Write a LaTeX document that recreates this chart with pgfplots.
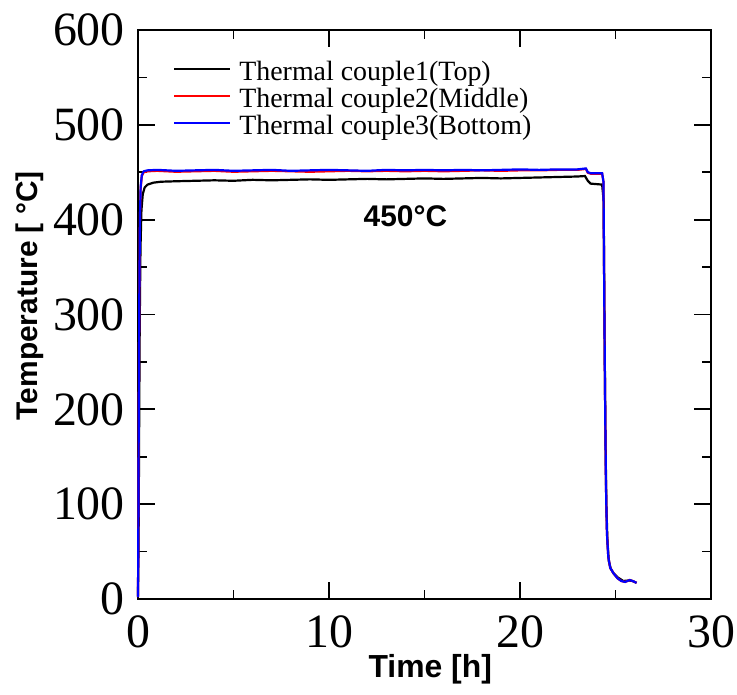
\documentclass[border=0pt]{standalone}
\usepackage{fontspec}
\setmainfont{Liberation Serif}
\newfontfamily\arial{Liberation Sans}
\usepackage{pgfplots}
\pgfplotsset{compat=1.18}

% plateau + cooling curves (time in h, T in degC)
\pgfplotstableread{
t T
0 3
0.03 60
0.06 180
0.09 290
0.13 370
0.18 410
0.25 427
0.35 434
0.5 437
0.8 439
1.2 440
2 440.5
3 441
4 441.5
5 441
6 442
7 441.5
8 442
9 442.5
10 442
11 442.5
12 443
13 442.5
14 443
15 443.5
16 443
17 443.5
18 444
19 443.5
20 444
21 444.5
22 445
23 445.5
23.4 446
23.55 441
23.7 438
24 437.5
24.3 437
24.38 420
24.42 300
24.47 180
24.52 100
24.58 60
24.65 40
24.75 32
24.9 27
25.1 23
25.4 19
25.7 19.5
25.9 19
26.1 17
}\top

\pgfplotstableread{
t T
0 2
0.02 80
0.04 200
0.07 320
0.1 400
0.14 433
0.2 446
0.3 450
0.5 451
1 451.5
2 450.5
3 451
4 451.5
5 450.5
6 451
7 451.5
8 451
9 450.5
10 451
11 451.5
12 451
13 451.5
14 451
15 451.5
16 451
17 451.5
18 452
19 451.5
20 452
21 452
22 452.5
23 452.5
23.45 453.5
23.55 449.5
23.7 448.5
24.3 448.5
24.37 440
24.4 350
24.45 220
24.5 120
24.55 70
24.62 45
24.72 33
24.9 27
25.1 22
25.3 19
25.5 18
25.75 20
25.95 18.5
26.1 17
}\middle

\pgfplotstableread{
t T
0 2
0.02 80
0.04 200
0.07 320
0.1 400
0.14 435
0.2 447
0.3 451
0.5 452
1 452.5
2 451.5
3 452
4 452.5
5 451.5
6 452
7 452.5
8 451.5
9 452
10 452.5
11 452
12 451.5
13 452.5
14 452
15 452.5
16 452
17 452.5
18 452
19 452.5
20 453
21 452.5
22 453
23 453
23.45 454
23.55 450
23.7 449
24.3 449
24.37 440
24.4 350
24.45 220
24.5 120
24.55 70
24.62 45
24.72 33
24.9 27
25.1 22
25.3 19
25.5 18
25.75 20
25.95 18.5
26.1 17
}\bottom

\begin{document}
\begin{tikzpicture}
\begin{axis}[
    name=ax,
    scale only axis,
    width=573bp, height=569bp,
    xmin=0, xmax=30, ymin=0, ymax=600,
    xtick={0,10,20,30},
    ytick={0,100,...,600},
    minor tick num=1,
    major tick length=17bp,
    minor tick length=9bp,
    every tick/.style={line width=1.8bp, black},
    axis line style={line width=1.8bp},
    /pgf/number format/assume math mode=true,
    tick label style={font=\fontsize{48}{48}\selectfont, inner sep=0pt},
    yticklabel style={xshift=-13bp},
    xticklabel style={yshift=-16bp},
    xlabel={Time [h]},
    ylabel={Temperature [ °C]},
    xlabel style={font=\arial\bfseries\fontsize{32}{32}\selectfont,
        at={(axis description cs:0.51,-0.123)}, anchor=center},
    ylabel style={font=\arial\bfseries\fontsize{30}{30}\selectfont,
        at={(axis description cs:-0.188,0.533)}, anchor=center},
    legend cell align=left,
    legend style={draw=none, fill=none, inner sep=0pt, row sep=0pt,
        at={(axis description cs:0.061,0.947)}, anchor=north west,
        font=\fontsize{28}{28}\selectfont,
        nodes={inner sep=0pt, text height=20bp, text depth=7bp},
        /tikz/every odd column/.append style={column sep=8bp}},
    legend image code/.code={\draw[#1] (0bp,5bp) -- (56bp,5bp);},
    clip=false,
]
\addplot[black, line width=2.2bp] table[x=t, y=T] {\top};
\addplot[red, line width=2.2bp] table[x=t, y=T] {\middle};
\addplot[blue, line width=2.2bp] table[x=t, y=T] {\bottom};
\legend{Thermal couple1(Top), Thermal couple2(Middle), Thermal couple3(Bottom)}
\node[font=\arial\bfseries\fontsize{30}{30}\selectfont] at (axis cs:14,404) {450°C};
\end{axis}
\pgfresetboundingbox
\path ([shift={(-138bp,-96bp)}]ax.south west) rectangle ([shift={(26bp,30bp)}]ax.north east);
\end{tikzpicture}
\end{document}
